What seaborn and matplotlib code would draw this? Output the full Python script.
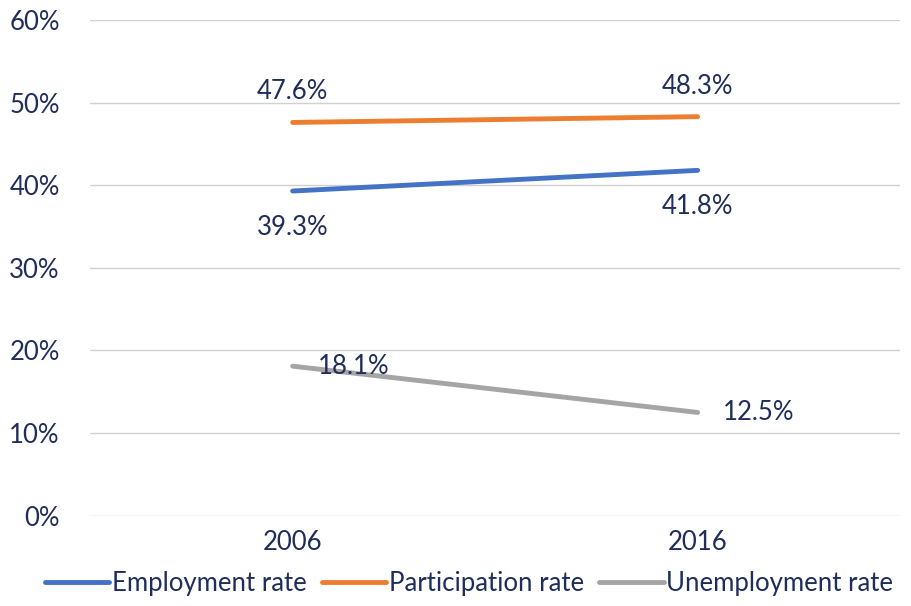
import numpy as np
import pandas as pd
import matplotlib
matplotlib.use("Agg")
import matplotlib.pyplot as plt
import seaborn as sns

years = ["2006", "2016"]
series_names = ["Employment rate", "Participation rate", "Unemployment rate"]
employment = [39.3, 41.8]
participation = [47.6, 48.3]
unemployment = [18.1, 12.5]
colors = ["#4472C4", "#ED7D31", "#A5A5A5"]
text_color = "#1F2D5A"

sns.set_style("white")
plt.rcParams["font.family"] = ["Lato", "DejaVu Sans"]

df = pd.DataFrame({
    "year": years * 3,
    "x": [0, 1] * 3,
    "rate": employment + participation + unemployment,
    "series": np.repeat(series_names, len(years)),
})

fig = plt.figure(figsize=(9.11, 6.06), dpi=100)
ax = fig.add_axes([0.099, 0.149, 0.889, 0.818])

sns.lineplot(data=df, x="x", y="rate", hue="series", palette=colors,
             linewidth=3.5, ax=ax, legend=False)

ax.set_xlim(-0.5, 1.5)
ax.set_ylim(0, 60)
ax.set_yticks(range(0, 61, 10))
ax.set_yticklabels([f"{v}%" for v in range(0, 61, 10)])
ax.set_xticks([0, 1])
ax.set_xticklabels(years)
ax.set_xlabel("")
ax.set_ylabel("")
ax.grid(axis="y", color="#D0D0D0", linewidth=1)
for s in ax.spines.values():
    s.set_visible(False)
fs = 18.5
ax.tick_params(axis="both", length=0, labelsize=fs, colors=text_color, pad=10)
ax.tick_params(axis="y", pad=22)

# data labels
for i, v in enumerate(participation):
    ax.annotate(f"{v}%", (i, v), xytext=(0, 13), textcoords="offset points",
                ha="center", va="bottom", fontsize=fs, color=text_color)
for i, v in enumerate(employment):
    ax.annotate(f"{v}%", (i, v), xytext=(0, -17), textcoords="offset points",
                ha="center", va="top", fontsize=fs, color=text_color)
for i, v in enumerate(unemployment):
    ax.annotate(f"{v}%", (i, v), xytext=(18, 0), textcoords="offset points",
                ha="left", va="center", fontsize=fs, color=text_color)

handles = [plt.Line2D([0], [0], color=c, linewidth=3.5) for c in colors]
leg = fig.legend(handles, series_names, loc="lower center", ncol=3,
                 bbox_to_anchor=(0.515, -0.022), frameon=False, fontsize=fs,
                 handlelength=2.5, handletextpad=0.1, columnspacing=0.6)
for t in leg.get_texts():
    t.set_color(text_color)

fig.savefig("out.png", dpi=100)
